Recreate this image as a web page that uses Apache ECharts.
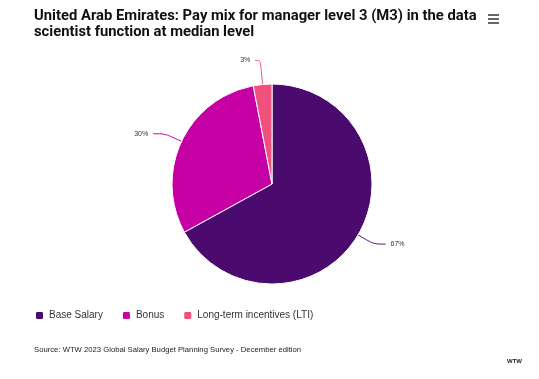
<!DOCTYPE html>
<html><head><meta charset="utf-8">
<script src="https://cdn.jsdelivr.net/npm/echarts@6/dist/echarts.min.js"></script>
<style>html,body{margin:0;padding:0;background:#fff}#c{width:539px;height:379px}</style>
</head><body><div id="c"></div>
<script>
const categories = ['Base Salary', 'Bonus', 'Long-term incentives (LTI)'];
const values = [67, 30, 3];
const colors = ['#4b0a6e', '#c700a5', '#f0507c'];
const titleText = 'United Arab Emirates: Pay mix for manager level 3 (M3) in the data\nscientist function at median level';
const sourceText = 'Source: WTW 2023 Global Salary Budget Planning Survey - December edition';

const chart = echarts.init(document.getElementById('c'));
chart.setOption({
  animation: false,
  color: colors,
  title: {
    text: titleText,
    left: 29, top: 3,
    textStyle: { fontFamily: 'Roboto', fontSize: 14.8, fontWeight: 'bold', color: '#111', lineHeight: 16 }
  },
  legend: {
    left: 29, top: 305,
    itemWidth: 9, itemHeight: 9, itemGap: 18,
    icon: 'roundRect',
    textStyle: { fontFamily: 'Liberation Sans', fontSize: 10, color: '#333' },
    data: categories
  },
  graphic: [
    { type: 'text', left: 34, top: 346, style: { text: sourceText, fontFamily: 'Liberation Sans', fontSize: 7.7, fill: '#222' } },
    { type: 'text', left: 507, top: 358, style: { text: 'WTW', fontFamily: 'Liberation Sans', fontSize: 6, fontWeight: 'bold', fill: '#222' } },
    { type: 'rect', left: 488, top: 14, shape: { width: 11, height: 2 }, style: { fill: '#666' } },
    { type: 'rect', left: 488, top: 18, shape: { width: 11, height: 2 }, style: { fill: '#666' } },
    { type: 'rect', left: 488, top: 22, shape: { width: 11, height: 2 }, style: { fill: '#666' } }
  ],
  series: [{
    type: 'pie',
    center: [272, 184],
    radius: 100,
    startAngle: 90,
    clockwise: true,
    itemStyle: { borderColor: '#fff', borderWidth: 1 },
    label: { formatter: '{c}%', fontFamily: 'Liberation Sans', fontSize: 7, color: '#333' },
    labelLine: { smooth: true, length: 18, length2: 12, lineStyle: { width: 1 } },
    data: categories.map((n, i) => {
      const d = { name: n, value: values[i] };
      if (i === 2) d.labelLine = { length: 24, length2: 5 };
      return d;
    })
  }]
});
</script></body></html>
